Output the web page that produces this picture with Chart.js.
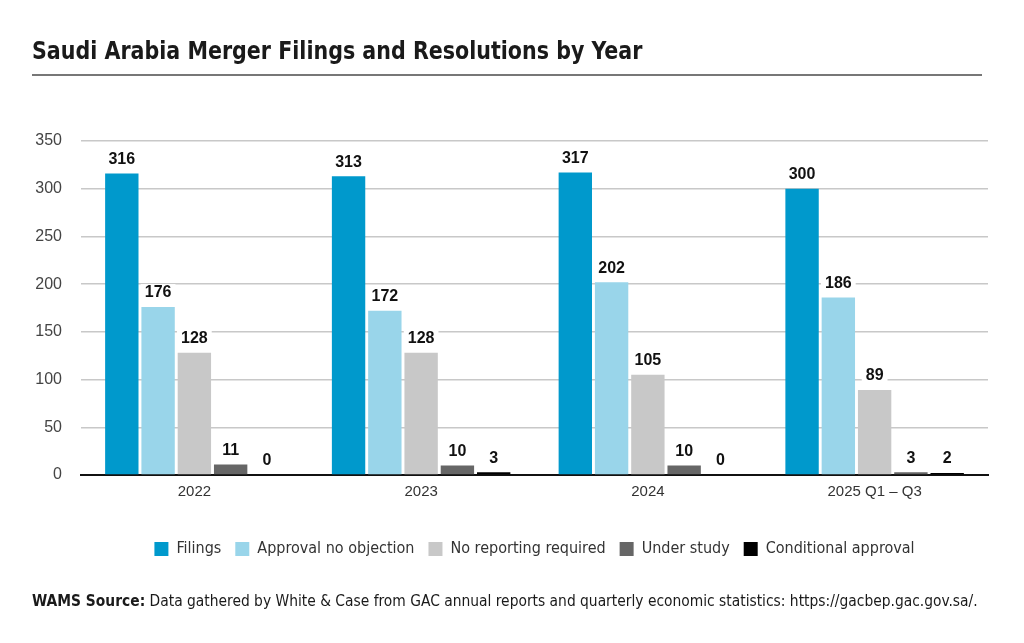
<!DOCTYPE html>
<html>
<head>
<meta charset="utf-8">
<script src="https://cdn.jsdelivr.net/npm/chart.js@4"></script>
<style>
	html, body { margin: 0; padding: 0; background: #fff; }
	#wrap { position: relative; width: 1024px; height: 643px; overflow: hidden; }
	#chart { position: absolute; left: 0; top: 0; }
	.title {
		position: absolute; left: 32px; top: 37px;
		font: bold 24px "Liberation Sans Narrow", "DejaVu Sans Condensed", sans-serif;
		color: #1a1a1a; white-space: nowrap;
		transform: scaleX(0.955); transform-origin: left top;
	}
	.rule { position: absolute; left: 32px; top: 74px; width: 950px; height: 2px; background: #777; }
	.source {
		position: absolute; left: 32px; top: 592px;
		font: 15.4px "Liberation Sans Narrow", "DejaVu Sans Condensed", sans-serif;
		color: #1a1a1a; white-space: nowrap;
	}
</style>
</head>
<body>
<div id="wrap">
	<canvas id="chart" width="1024" height="643"></canvas>
	<div class="title">Saudi Arabia Merger Filings and Resolutions by Year</div>
	<div class="rule"></div>
	<div class="source"><b>WAMS Source:</b> Data gathered by White &amp; Case from GAC annual reports and quarterly economic statistics: https://gacbep.gac.gov.sa/.</div>
</div>
<script>
var years = ["2022", "2023", "2024", "2025 Q1 – Q3"]
var filings = [316, 313, 317, 300]
var approvalNoObjection = [176, 172, 202, 186]
var noReportingRequired = [128, 128, 105, 89]
var underStudy = [11, 10, 10, 3]
var conditionalApproval = [0, 3, 0, 2]
var yTicks = [0, 50, 100, 150, 200, 250, 300, 350]

var narrow = "'Liberation Sans Narrow', 'DejaVu Sans Condensed', sans-serif"
var sans = "'Liberation Sans', Arial, sans-serif"

// value labels on white boxes, which cut the gridlines
var valueLabels = {
	id: "valueLabels",
	afterDatasetsDraw: function (chart) {
		var c = chart.ctx
		c.save()
		c.font = "bold 16px " + sans
		c.textAlign = "center"
		c.textBaseline = "bottom"
		chart.data.datasets.forEach(function (ds, i) {
			chart.getDatasetMeta(i).data.forEach(function (bar, j) {
				var txt = String(ds.data[j])
				var w = c.measureText(txt).width + 8
				var y = bar.y - 6
				c.fillStyle = "#fff"
				c.fillRect(bar.x - w / 2, y - 17, w, 18)
				c.fillStyle = "#111"
				c.fillText(txt, bar.x, y)
			})
		})
		c.restore()
	},
}

var ctx = document.getElementById("chart").getContext("2d")
var myChart = new Chart(ctx, {
	type: "bar",
	data: {
		labels: years,
		datasets: [
			{label: "Filings", data: filings, backgroundColor: "#0099cc"},
			{label: "Approval no objection", data: approvalNoObjection, backgroundColor: "#99d5ea"},
			{label: "No reporting required", data: noReportingRequired, backgroundColor: "#c8c8c8"},
			{label: "Under study", data: underStudy, backgroundColor: "#666666"},
			{label: "Conditional approval", data: conditionalApproval, backgroundColor: "#000000"},
		],
	},
	options: {
		responsive: false,
		animation: false,
		layout: {padding: {left: 21, right: 36, top: 141, bottom: 76}},
		datasets: {bar: {categoryPercentage: 0.8, barPercentage: 0.92}},
		scales: {
			x: {
				grid: {display: false, drawTicks: false},
				border: {display: true, color: "#111", width: 2},
				ticks: {color: "#333", font: {size: 15, family: sans}, padding: 8},
				afterFit: function (s) { s.height = 52 },
			},
			y: {
				min: 0,
				max: 350,
				afterBuildTicks: function (s) { s.ticks = yTicks.map(function (v) { return {value: v} }) },
				grid: {color: "#c8c8c8", lineWidth: 1.5, drawTicks: false},
				border: {display: false},
				ticks: {color: "#444", font: {size: 16, family: sans}, padding: 19},
				afterFit: function (s) { s.width = 60 },
			},
		},
		plugins: {
			legend: {
				position: "bottom",
				fullSize: false,
				labels: {
					boxWidth: 14,
					boxHeight: 14,
					padding: 14,
					color: "#333",
					font: {size: 16, family: narrow},
				},
			},
			tooltip: {enabled: false},
		},
	},
	plugins: [valueLabels],
})
</script>
</body>
</html>
